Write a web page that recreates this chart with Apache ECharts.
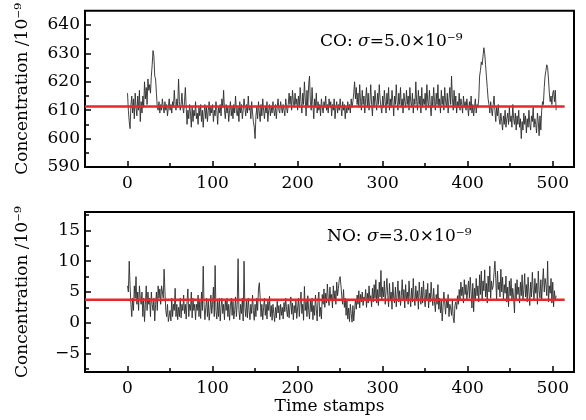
<!DOCTYPE html>
<html><head><meta charset="utf-8">
<script src="https://cdn.jsdelivr.net/npm/echarts@6/dist/echarts.min.js"></script>
<style>html,body{margin:0;padding:0;background:#fff}#c{width:586px;height:420px}</style>
</head><body><div id="c"></div>
<script>
// CO concentration (1e-9), time stamps 0..504
const coValues = [
616,610,606,603.5,612,615,609,614,607,616,
611,608,615,610,617,606,613,609,615,611,
620,614,618,612,621,617,619,616,622,626,
631,629,622,621,616,611,610,613,609,612,
610,614,611,609,613,610,612,608,611,614,
610,612,609,613,611,617,612,610,614,611,
621,613,610,612,616,611,609,613,618,611,
605,610,607,612,609,604,611,606,610,608,
613,607,609,605,611,608,612,606,610,604,
609,612,607,611,606,610,613,608,611,609,
612,606,610,608,613,610,605,611,609,612,
608,614,611,617,610,607,612,609,611,606,
610,613,608,611,607,612,609,615,610,608,
611,606,613,609,612,607,610,614,611,608,
612,609,615,610,611,607,613,609,606,604,
600,608,611,607,613,609,606,612,608,614,
610,607,611,609,613,606,610,612,608,611,
609,613,610,608,612,607,611,614,610,609,
613,611,609,612,610,608,614,611,609,612,
616,612,615,610,617,613,611,616,612,614,
610,615,611,618,613,609,616,612,620,614,
608,617,611,619,622,613,610,618,612,607,
614,611,616,609,613,610,612,608,614,611,
609,613,611,615,610,612,609,614,611,613,
608,612,610,614,607,611,613,609,612,610,
614,611,608,613,610,612,607,611,609,613,
610,612,609,614,611,613,616,620,614,618,
612,616,611,619,613,610,617,612,615,609,
614,618,611,616,610,613,619,612,608,615,
611,617,613,610,616,612,619,614,611,609,
615,611,617,613,609,616,612,618,610,614,
611,617,613,608,615,612,619,613,610,616,
612,618,611,614,609,616,613,611,617,612,
615,610,618,613,611,616,609,614,612,620,
613,610,617,612,615,609,618,611,614,612,
616,610,619,613,611,617,612,608,615,611,
618,613,610,616,612,619,611,614,609,617,
612,615,610,618,613,611,616,609,614,618,
612,622,614,610,617,611,615,609,613,611,
616,610,614,612,609,615,611,613,610,614,
611,608,613,610,615,609,612,608,611,614,
609,612,611,614,622,624,627,626,629,632,
630,626,622,618,614,612,609,613,610,608,
612,615,610,606,611,608,612,607,605,609,
606,603,608,605,610,604,607,609,605,611,
606,608,604,612,607,605,609,603,608,605,
610,604,607,600,606,603,609,605,608,602,
607,604,610,605,603,608,606,611,604,607,
605,602,609,606,601,608,603,610,613,612,
618,622,624,626,625,621,616,613,615,612,
616,617,613,617,610
];
// NO concentration (1e-9), time stamps 0..504
const noValues = [
6,5,10,6,3,1,4,2,6,4,
7.5,3,5,2,6,4,3,5,1,4,
0.2,3,6,2,5,3,4,1,5,3,
2,4,0.3,3,5,2,6,4,5.5,3,
6,5,4,8.7,5,2,1,3,0.2,0.1,
2,0.3,4,1,3,2,5.6,1,3,0.5,
2.5,1,4,0.8,3,2,4.5,1.5,3,0.6,
3.5,5.5,1,3,2,5,0.8,4,2,3,
0.5,3,2,4.5,1,3.5,0.7,5,2,9.2,
3,0.5,2.5,4,1,3.5,0.4,2,4.5,1.5,
3,5.8,1,9.3,2,0.6,3.5,1,4,0.3,
2.5,4,1.5,3,0.5,3.8,2,4,1,3,
0.4,2.8,4,1.2,3.5,0.6,2,4.2,1,3,
10.4,2,0.5,3,1.5,4,0.3,10,2.5,1,
3.5,0.8,4,2,0.5,3,1.5,4.5,2,0.4,
3,1,4,2,5.5,6.5,4,1,3,0.5,
2.5,4,1.2,3,0.6,3.5,2,4.3,1,2.8,
0.4,3,1.5,0.2,2.5,0.8,3.5,1.6,2.8,0.5,
3,1.2,2.5,0.6,3.3,1.8,4,2.2,1,3,
0.8,2.6,4.2,1.4,3.2,0.5,2.8,1.6,3.6,0.7,
2.4,4,1,3.2,5,1.5,3,0.4,5.9,2,
3.5,1,4.4,2,0.6,3.6,1.8,4,0.5,2.8,
1.2,4.5,2.2,0.3,3.8,5,1,2.5,0.6,4.6,
3,5.5,2.5,4.8,3.2,6.3,4,2.8,5.8,3.6,
4.6,2.4,6,3.8,5.2,3,6.6,4.4,5.6,7,
7.5,6,4.2,3,5.4,2.5,4,1.2,3.6,0.6,
2.4,0.2,3,1.5,0.1,2.8,0.3,2,3.8,2.2,
4.5,3,5.2,2.4,4.6,3.4,5,2.8,4.2,3.6,
5.4,2.5,4.8,3.2,6,3.8,4.4,2.6,5.6,3.4,
6.2,4,7,3.2,5.4,2.8,6.6,4.2,8.5,3.6,
5.8,4.2,6.8,3,5.2,7.2,4.4,2.6,6.4,3.8,
5,2.2,6.6,4,3.2,5.8,2.6,4.6,6.8,3.4,
5.2,2.8,4.4,7,3.6,5.4,2.4,6.2,3.8,5,
3,6.8,4.2,2.6,5.6,3.4,7.2,4,2.8,6,
3.6,5.2,2.2,6.6,4.4,3,5.8,3.2,6.8,4,
2.6,5.4,3.8,6.4,2.4,4.8,3.4,6.6,4.2,2.8,
5.6,3.4,1.8,4.6,3,6.2,2.2,4,1.6,3.6,
0.3,2.6,5,3.2,1.4,3.8,2.4,4.6,1,3,
2.4,1.2,3.6,0.8,0,2.8,3.4,2.2,4.4,3,
5.4,3.8,6.6,4.4,5.8,3.2,7,4.6,6.2,3.6,
5.2,6.8,4,7.4,5,2.4,6.4,1.8,5.6,3.8,
7.2,4.4,6,3.4,7.8,4.6,8.4,3.6,6.8,5.2,
8.6,4.2,6.4,3.2,7.6,5,9.2,4,6.8,5.4,
6,8.2,10,7.2,3.6,8.4,5.4,6.6,4.2,8.7,
5,7.4,3.8,6.2,4.8,7.6,3.4,5.8,2.6,6.8,
4.4,7.2,3.6,5.6,4,1.6,6.4,3.8,7,4.6,
5.8,3.2,6.6,4.4,7.8,3.6,5.4,8,4.2,6.2,
3.4,7.4,5,2.8,6.6,4.2,8.2,5.4,3.6,7.2,
4.8,6.4,3,8.4,5.2,4,7,3.8,6.6,8.8,
5,7.2,6.2,4.4,10,3.4,6,4.8,7.2,3.2,
6.6,2.6,5.2,3.6,4.4
];
const coMean = 611.3;
const noMean = 3.75;
const fitX = [-50, 514];
const xTicks = [0, 100, 200, 300, 400, 500];
const xMinorTicks = [50, 150, 250, 350, 450];
const coTicks = [590, 600, 610, 620, 630, 640];
const coMinorTicks = [595, 605, 615, 625, 635];
const noTicks = [-5, 0, 5, 10, 15];
const noMinorTicks = [-7.5, -2.5, 2.5, 7.5, 12.5, 17.5];
const yName = 'Concentration /10⁻⁹';

const FONT = 'DejaVu Serif';
const lbl = { color: '#000', fontFamily: FONT, fontSize: 17 };

function xAxes(gi, name) {
  return [{
    type: 'value', gridIndex: gi, position: 'bottom', min: -50, max: 525,
    axisLine: { show: false, onZero: false }, splitLine: { show: false },
    axisTick: { show: true, inside: true, length: 6, customValues: xTicks, lineStyle: { color: '#000', width: 1.5 } },
    axisLabel: Object.assign({ customValues: xTicks, margin: 8 }, lbl),
    name: name, nameLocation: 'middle', nameGap: 26,
    nameTextStyle: lbl
  }, {
    type: 'value', gridIndex: gi, position: 'bottom', min: -50, max: 525,
    axisLine: { show: false, onZero: false }, splitLine: { show: false },
    axisTick: { show: true, inside: true, length: 4, customValues: xMinorTicks, lineStyle: { color: '#000', width: 1.5 } },
    axisLabel: { show: false }
  }];
}
function yAxes(gi, min, max, ticks, minor) {
  return [{
    type: 'value', gridIndex: gi, position: 'left', min: min, max: max,
    axisLine: { show: false, onZero: false }, splitLine: { show: false },
    axisTick: { show: true, inside: true, length: 6, customValues: ticks, lineStyle: { color: '#000', width: 1.5 } },
    axisLabel: Object.assign({ customValues: ticks, margin: 5, formatter: v => String(v).replace('-', '−') }, lbl),
    name: yName, nameLocation: 'middle', nameGap: 54, nameRotate: 90,
    nameTextStyle: lbl
  }, {
    type: 'value', gridIndex: gi, position: 'left', min: min, max: max,
    axisLine: { show: false, onZero: false }, splitLine: { show: false },
    axisTick: { show: true, inside: true, length: 4, customValues: minor, lineStyle: { color: '#000', width: 1.5 } },
    axisLabel: { show: false }
  }];
}

const coData = coValues.map((v, i) => [i, v]);
const noData = noValues.map((v, i) => [i, v]);

const chart = echarts.init(document.getElementById('c'), null, { renderer: 'canvas' });
const lineStyle = { color: '#2b2b2b', width: 0.9 };
const fitStyle = { color: '#e8262b', width: 2.5 };
chart.setOption({
  animation: false,
  backgroundColor: '#fff',
  grid: [
    { left: 85, right: 12, top: 6, height: 161, show: true, borderColor: '#000', borderWidth: 2, backgroundColor: 'transparent' },
    { left: 85, right: 12, top: 212, height: 160, show: true, borderColor: '#000', borderWidth: 2, backgroundColor: 'transparent' }
  ],
  xAxis: [...xAxes(0, ''), ...xAxes(1, 'Time stamps')],
  yAxis: [...yAxes(0, 590, 645, coTicks, coMinorTicks), ...yAxes(1, -8, 18, noTicks, noMinorTicks)],
  series: [
    { type: 'line', xAxisIndex: 0, yAxisIndex: 0, data: coData, showSymbol: false, symbol: 'none', lineStyle: lineStyle },
    { type: 'line', xAxisIndex: 0, yAxisIndex: 0, data: fitX.map(x => [x, coMean]), showSymbol: false, symbol: 'none', lineStyle: fitStyle, z: 3 },
    { type: 'line', xAxisIndex: 2, yAxisIndex: 2, data: noData, showSymbol: false, symbol: 'none', lineStyle: lineStyle },
    { type: 'line', xAxisIndex: 2, yAxisIndex: 2, data: fitX.map(x => [x, noMean]), showSymbol: false, symbol: 'none', lineStyle: fitStyle, z: 3 }
  ],
  graphic: [
    { type: 'text', left: 320, top: 33, style: { text: '{a|CO: }{i|σ}{a|=5.0×10⁻⁹}', rich: { a: lbl, i: Object.assign({ fontStyle: 'italic' }, lbl) } } },
    { type: 'text', left: 327, top: 228, style: { text: '{a|NO: }{i|σ}{a|=3.0×10⁻⁹}', rich: { a: lbl, i: Object.assign({ fontStyle: 'italic' }, lbl) } } }
  ]
});
</script>
</body></html>
